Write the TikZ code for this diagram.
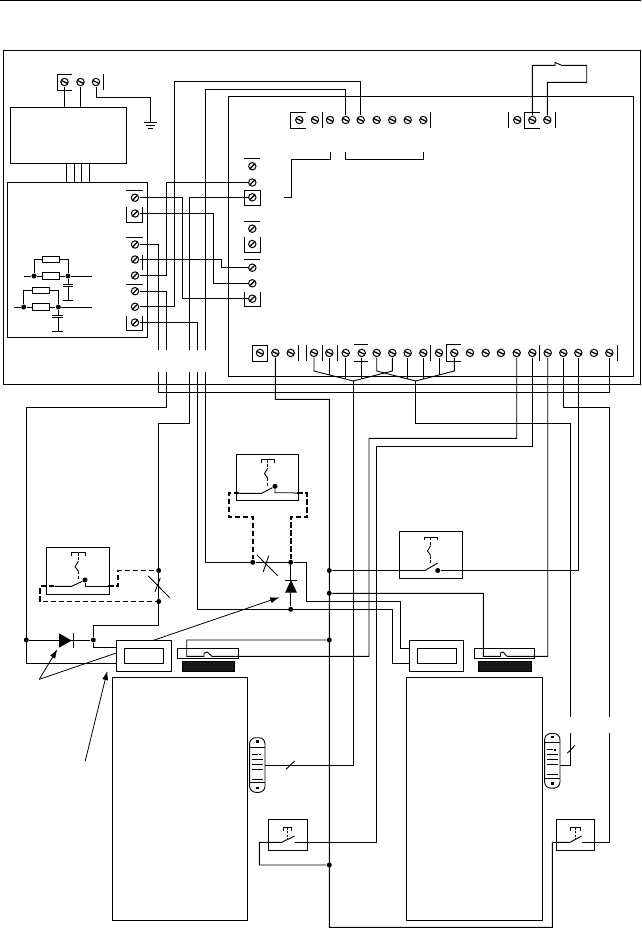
\documentclass[tikz,border=0pt]{standalone}
\usetikzlibrary{arrows.meta}
\tikzset{
 wire/.style={line width=0.9pt},
 blk/.style={draw,rectangle,inner sep=0pt,outer sep=0pt},
 res/.style={draw,rectangle,fill=white,inner sep=0pt,minimum width=16.5pt,minimum height=6.6pt},
 dotn/.style={circle,fill=black,inner sep=0pt,minimum size=5pt},
 scrh/.style={circle,draw,line width=1pt,inner sep=0pt,minimum size=7.4pt,outer sep=1pt,
  path picture={\draw[line width=1.3pt] (path picture bounding box.155)--(path picture bounding box.-25);}},
 scrv/.style={circle,draw,line width=1pt,inner sep=0pt,minimum size=7.4pt,outer sep=1pt,
  path picture={\draw[line width=1.3pt] (path picture bounding box.45)--(path picture bounding box.225);}},
 bus/.style={line width=1.8pt,dash pattern=on 5.5pt off 2.5pt},
 ptr/.style={line width=0.8pt,-{Latex[length=9pt,width=6pt]}},
 reader/.style={draw,rectangle,rounded corners=6pt,inner sep=0pt,minimum width=15.3pt,minimum height=54.6pt}
}
\newcommand{\actu}[2]{
 \draw (#1-6.7,#2+3.4)--(#1-6.7,#2)--(#1+6.7,#2)--(#1+6.7,#2+3.4);
 \draw[dash pattern=on 3pt off 1.5pt] (#1,#2)--(#1,#2+8.5);
 \draw (#1,#2+8.5)--(#1-3.2,#2+14)--(#1,#2+18.5);
 \draw[dash pattern=on 3pt off 1.5pt] (#1,#2+18.5)--(#1,#2+27.5);
}
\begin{document}
\begin{tikzpicture}[x=1pt,y=-1pt,wire]
 \useasboundingbox (0,0) rectangle (641,929);
 \draw[line width=0.6pt] (0,0.6)--(641,0.6);
 \node[blk,minimum width=636.5pt,minimum height=334pt] (outer) at (321.75,217) {};
 \node[blk,minimum width=404.5pt,minimum height=279.5pt] (inner) at (430.75,236.25) {};
 \node[blk,minimum width=116.4pt,minimum height=56pt] (psu) at (68.5,135.3) {};
 \node[blk,minimum width=140pt,minimum height=155pt] (ctl) at (77.3,259.8) {};
 \node[blk,minimum width=135pt,minimum height=243pt] (cabA) at (179.8,798.5) {};
 \node[blk,minimum width=135.6pt,minimum height=243pt] (cabB) at (474.5,798.5) {};
 \node[blk,minimum width=39pt,minimum height=31pt] (swA) at (287.8,834.8) {};
 \node[blk,minimum width=38.4pt,minimum height=31pt] (swB) at (575.5,834.8) {};
 \node[blk,minimum width=63pt,minimum height=47pt] (swC) at (77.8,570.8) {};
 \node[blk,minimum width=62pt,minimum height=46pt] (swD) at (267.3,477.3) {};
 \node[blk,minimum width=63.4pt,minimum height=47pt] (swE) at (431,554.8) {};
 \node[blk,minimum width=61.4pt,minimum height=10pt] (reedA) at (208,653.3) {};
 \node[blk,minimum width=60.4pt,minimum height=10pt] (reedB) at (504.5,653.3) {};
 \node[blk,fill=black!90,minimum width=52pt,minimum height=10.4pt] (magA) at (208.3,666.5) {};
 \node[blk,fill=black!90,minimum width=53pt,minimum height=10.4pt] (magB) at (504.5,666.5) {};

 \foreach \x/\n in {64.5/1,80.5/2,96/3} \node[scrh] (pw\n) at (\x,82) {};
 \foreach \x/\n in {299.3/1,315/2,330/3,345.7/4,360.7/5,376.7/6,392.3/7,407.7/8,423.3/9} \node[scrh] (tp\n) at (\x,120) {};
 \foreach \x/\n in {517.3/1,532.3/2,547.3/3} \node[scrh] (rt\n) at (\x,120) {};
 \foreach \y/\n in {197.7/1,213.5/2,244.5/3,259.5/4,275.5/5,291.2/6,306.8/7,322.5/8} \node[scrv] (bb\n) at (135,\y) {};
 \foreach \y/\n in {166.3/1,182.5/2,197.3/3,228.7/4,244/5,267.7/6,283.3/7,298.7/8} \node[scrv] (lc\n) at (252.3,\y) {};
 \foreach \x/\n in {260/1,275.3/2,290.7/3,314/4,329.3/5,345.7/6,361.7/7,376.7/8,392.3/9,407.7/10,423.3/11,439/12,454.3/13,470/14,485.7/15,501/16,516.7/17,532.3/18,547.7/19,563.3/20,578.3/21,594/22,609.3/23} \node[scrh] (bt\n) at (\x,352.9) {};

 \draw (72,74)--(57,74)--(57,90)--(72,90);
 \draw (103,74)--(103,90);
 \draw (306,112.3)--(290.7,112.3)--(290.7,128.3)--(306,128.3);
 \draw (322.3,112.3)--(322.3,128.3);
 \draw (430.7,112.3)--(430.7,128.3);
 \draw (508.7,112.3)--(508.7,128.3);
 \draw (555.3,112.3)--(555.3,128.3);
 \draw (540,112.3)--(524.3,112.3)--(524.3,128.3)--(540,128.3);
 \draw (284,197.3)--(291.7,197.3)--(291.7,159)--(330,159)--(330,151.7);
 \draw (345.7,151.7)--(345.7,159)--(423.3,159)--(423.3,151.7);

 \draw (126,190)--(142.7,190);
 \draw (126,206.7)--(126,222.3)--(142.7,222.3)--(142.7,206.7);
 \draw (126,237)--(142.7,237);
 \draw (142.7,255)--(142.7,270);
 \draw (126,284.3)--(142.7,284.3);
 \draw (126,316)--(126,330.7)--(142.7,330.7)--(142.7,316);
 \draw (244.3,158.3)--(260,158.3);
 \draw (244.3,190) rectangle (260,205.7);
 \draw (244.3,221)--(260,221);
 \draw (244.3,236.7)--(244.3,252.7)--(260,252.7)--(260,236.7);
 \draw (244.3,259.3)--(260,259.3);
 \draw (244.3,291.7)--(244.3,306.7)--(260,306.7)--(260,291.7);

 \draw (252.5,345) rectangle (267.5,361);
 \foreach \x in {298.3,306.7,322.3,337.3,430.7,539.3,617.3} \draw (\x,345)--(\x,361);
 \draw (354.3,344.3)--(367.7,344.3);
 \draw (354.3,361)--(367.7,361);
 \draw (460.7,344.3)--(446.7,344.3)--(446.7,361)--(460.7,361);

 \draw (pw1) -- (pw1 |- psu.north);
 \draw (pw2) -- (pw2 |- psu.north);
 \coordinate (gnd) at (150,122.7);
 \draw (pw3) |- (150,97.3) -- (gnd);
 \draw (144,122.7)--(157,122.7);
 \draw (146,125.7)--(155,125.7);
 \draw (148,128.5)--(153,128.5);
 \foreach \x in {66.3,74,81.7,89.3} \draw (\x,0 |- psu.south) -- (\x,0 |- ctl.north);

 \node[res] (rA1) at (50.7,259.3) {};
 \node[res] (rA2) at (50.7,276) {};
 \node[res] (rB1) at (40.7,290.5) {};
 \node[res] (rB2) at (40.7,307) {};
 \node[dotn] (dA1) at (34,276) {};
 \node[dotn] (dA2) at (68,276) {};
 \node[dotn] (dB1) at (23.7,307) {};
 \node[dotn] (dB2) at (58.3,307) {};
 \coordinate (lA) at (24,276);
 \coordinate (eA) at (91.7,276);
 \coordinate (lB) at (14,307);
 \coordinate (eB) at (91.7,307);
 \draw (lA) -- (dA1) -- (rA2) -- (dA2) -- (eA);
 \draw (lB) -- (dB1) -- (rB2) -- (dB2) -- (eB);
 \draw (dA1) |- (rA1) -| (dA2);
 \draw (dB1) |- (rB1) -| (dB2);
 \draw (dA2) -- (68,284);
 \draw (62.7,284)--(73.3,284);
 \draw (62.7,286.3)--(73.3,286.3);
 \draw (68,286.3)--(68,300);
 \draw (62.7,300)--(72.7,300);
 \draw (dB2) -- (58.3,315);
 \draw (52.3,315)--(63.3,315);
 \draw (52.3,317.3)--(63.3,317.3);
 \draw (58.3,317.3)--(58.3,331);
 \draw (52.3,331)--(63.3,331);

 \draw (bb1) -| (182.3,298.7) -- (lc8);
 \draw (bb2) -| (213.3,283.3) -- (lc7);
 \draw (bb4) -| (221.3,267.7) -- (lc6);
 \draw (bb5) -| (166.7,182.5) -- (lc2);
 \draw (bb7) -| (174.3,81) -| (tp5);

 \coordinate (cA1) at (158.7,350);
 \coordinate (cB1) at (166.7,350);
 \coordinate (cC1) at (189.3,350);
 \coordinate (cD1) at (197.7,350);
 \coordinate (cE1) at (205.3,350);
 \coordinate (cA2) at (158.7,372);
 \coordinate (cB2) at (166.7,372);
 \coordinate (cC2) at (189.3,372);
 \coordinate (cD2) at (197.7,372);
 \coordinate (cE2) at (205.3,372);
 \draw (bb3) -| (cA1);
 \draw (bb6) -| (cB1);
 \draw (bb8) -| (cD1);
 \draw (cC1) |- (lc3);
 \draw (cE1) |- (205.3,89.3) -| (tp4);

 \draw (rt2) |- (555,65.3) -- (555,62.5) -- (561.7,65.3) -- (586.7,65.3) -- (586.7,82.3) -| (rt3);

 \coordinate (fanA) at (353.3,381);
 \coordinate (fanB) at (415.7,381);
 \draw (bt4) -- (314,371) -- (fanA) -- (392.3,371) -- (bt9);
 \draw (bt8) -- (376.7,371) -- (fanB) -- (454.3,371) -- (bt13);
 \foreach \n/\y in {5/374.9,6/379.1,7/378.9,10/378.9,11/379,12/375.2} \draw (bt\n) -- (bt\n |- 0,\y);

 \node[dotn] (dtA) at (26.3,640) {};
 \node[dotn] (dtB) at (93.3,640) {};
 \node[dotn] (dtC) at (158.7,570.5) {};
 \node[dotn] (dtD) at (158.7,601.5) {};
 \node[dotn] (dtE) at (252.7,562.3) {};
 \node[dotn] (dtF) at (290.7,562.3) {};
 \node[dotn] (dtG) at (290.7,609.3) {};
 \node[dotn] (dtH) at (329.3,570.5) {};
 \node[dotn] (dtI) at (329.3,593.3) {};
 \node[dotn] (dtJ) at (329.3,640) {};
 \node[dotn] (dtK) at (329.3,865) {};
 \node[dotn] (dtL) at (437.7,570.5) {};
 \node[dotn] (dtM) at (85,580) {};
 \node[dotn] (dtN) at (275,486.3) {};

 \coordinate (jA) at (39.3,679.3);
 \coordinate (hA) at (57.3,649.3);
 \coordinate (hB) at (279.3,597.3);
 \coordinate (jB) at (85.3,760.7);
 \coordinate (hC) at (107.3,671);
 \draw[ptr] (jA) -- (hA);
 \draw[ptr] (jA) -- (hB);
 \draw[ptr] (jB) -- (hC);

 \node[blk,fill=white,minimum width=55pt,minimum height=31pt] (doorA) at (144.2,655.8) {};
 \node[blk,minimum width=39pt,minimum height=15.4pt] (doorAi) at (143.8,656) {};
 \node[blk,fill=white,minimum width=54.4pt,minimum height=31pt] (doorB) at (436.5,655.8) {};
 \node[blk,minimum width=39pt,minimum height=15.4pt] (doorBi) at (436.5,656) {};
 \coordinate (pA1) at (116.7,647.7);
 \coordinate (pA2) at (116.7,663.5);
 \coordinate (pB1) at (409.3,648.3);
 \coordinate (pB2) at (409.3,663.7);

 \draw (cA2) |- (609.3,392.3) -- (bt23);
 \draw (cB2) |- (26.3,407.3) |- (pA2);
 \draw (cC2) |- (158.7,423.3) |- (93.3,625) -- (dtB);
 \draw (cD2) |- (392.7,609.3) |- (pB2);
 \draw (cE2) |- (dtE);
 \draw (dtE) -- (dtF);
 \draw (dtF) -| (306.7,601.3) -| (400.3,648.3) -- (pB1);
 \draw (dtF) -- (dtG);
 \draw (dtA) -- (dtB);
 \draw (dtB) |- (pA1);
 \draw (bt2) |- (329.3,399.3) -- (329.3,927.3) -| (552.3,842.3) -- (570,842.3) -- (581.7,836);
 \fill (59,633.3)--(71.7,640.5)--(59,647.7)--cycle;
 \draw (73.3,633.3)--(73.3,647.7);
 \fill (285,592.7)--(297,592.7)--(291,580)--cycle;
 \draw (285,580)--(296.7,580);

 \coordinate (cH) at (570.7,716.7);
 \coordinate (cI) at (570.7,733);
 \coordinate (cG) at (609.3,716.7);
 \coordinate (cK) at (609.3,733);
 \coordinate (cSa) at (281.7,842.3);
 \coordinate (cSb) at (294.7,842.3);
 \coordinate (cSc) at (581.7,842.3);
 \node[reader] (rdA) at (257.3,765) {};
 \node[reader] (rdB) at (552.3,760.8) {};
 \foreach \xx/\yy in {257.3/737.7,552.3/733.3} {
  \draw (\xx-7.6,\yy+9.6)--(\xx+7.6,\yy+9.6);
  \draw (\xx-7.6,\yy+45)--(\xx+7.6,\yy+45);
  \fill (\xx-1.3,\yy+2.4) rectangle (\xx+1.3,\yy+5);
  \fill (\xx-1.3,\yy+49) rectangle (\xx+1.3,\yy+51.6);
  \draw (\xx-5.5,\yy+16.6)--(\xx+1,\yy+16.6);
  \fill (\xx+1.8,\yy+15.8) rectangle (\xx+3.8,\yy+17.6);
  \foreach \d in {21.6,26.6,31.6,41.3} \draw (\xx-5.5,\yy+\d)--(\xx+6,\yy+\d);
 }
 \draw (fanA) |- (rdA);
 \draw (286,769.3)--(294.7,761);
 \draw (fanB) |- (570.7,423.3) -- (cH);
 \draw (cI) |- (rdB.east |- 0,765);
 \draw (567.3,753.3)--(575,745.3);

 \draw (bt17) |- (369,438.3) |- (212,656.3) -- (207,652) -- (204,653.3) -- (204,656.3) -| (186.7,640) -- (dtJ);
 \draw (bt18) |- (376.7,446.3) |- (cSb);
 \draw (bt19) |- (507,656.3) -- (503,652) -- (500.5,653) -- (500.5,656.3) -| (483.3,593.3) -- (dtI);
 \draw (bt20) |- (609.3,407.3) -- (cG);
 \draw (cK) |- (cSc);
 \draw (bt21) |- (dtL);
 \draw (dtH) -- (425,570.5) -- (437.7,563);
 \draw (dtK) -| (259.3,842.3) -- (cSa) -- (294.7,836);

 \actu{78.3}{552.7}
 \actu{267.7}{459.7}
 \actu{430.7}{537}
 \draw (283.3,830.5)--(283.3,827.7)--(291.7,827.7)--(291.7,830.5);
 \draw[dash pattern=on 2pt off 1.5pt] (287.3,827.7)--(287.3,841);
 \draw (570.7,830.5)--(570.7,827.7)--(580,827.7)--(580,830.5);
 \draw[dash pattern=on 2pt off 1.5pt] (575.3,827.7)--(575.3,840);

 \coordinate (cCa) at (54.3,586.3);
 \coordinate (cCb) at (108.3,586.3);
 \coordinate (cDa) at (239.3,493.3);
 \coordinate (cDb) at (297,493.3);
 \draw (cCa) -- (71.7,586.3) -- (dtM);
 \draw (dtM) |- (cCb);
 \draw (cDa) -- (261.7,493.3) -- (dtN);
 \draw (dtN) |- (291.7,492.7) -- (cDb);
 \draw[bus] (cCa) -| (40,601.5) -- (dtD);
 \draw[bus] (cCb) -| (118.3,570.5) -- (dtC);
 \draw[bus] (cDa) -| (228.7,516.7) -| (dtE);
 \draw[bus] (cDb) -| (307.3,516.7) -| (dtF);
 \draw (148.3,576)--(169.7,597.7);
 \draw (155,591.7)--(160.3,578);
 \draw (257,555)--(277.7,575.7);
 \draw (268.7,555.7)--(263.3,571.7);
\end{tikzpicture}
\end{document}
